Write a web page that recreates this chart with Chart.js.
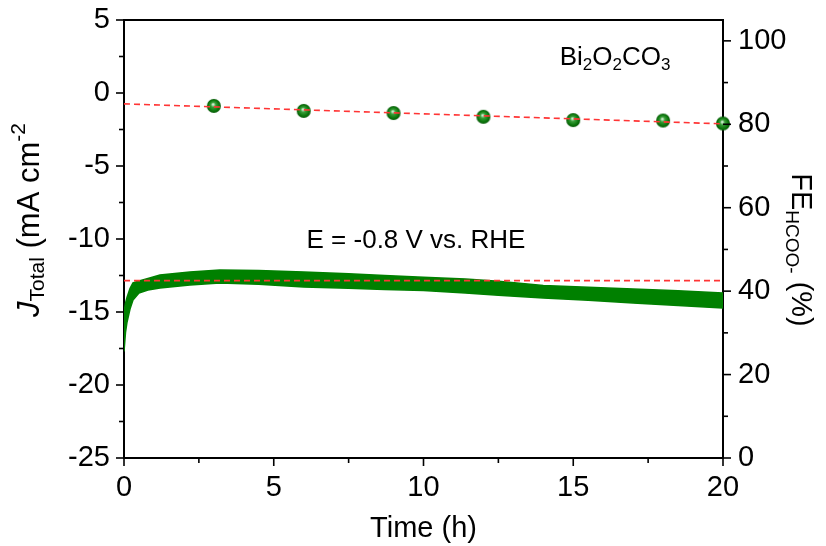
<!DOCTYPE html>
<html>
<head>
<meta charset="utf-8">
<script src="https://cdn.jsdelivr.net/npm/chart.js@4.4.1/dist/chart.umd.min.js"></script>
<style>
  html, body { margin: 0; padding: 0; background: #fff; }
  #wrap { width: 826px; height: 546px; }
</style>
</head>
<body>
<div id="wrap"><canvas id="c"></canvas></div>
<script>
// Chronoamperometry at -0.8 V vs. RHE: current density envelope (noisy band)
const timeH  = [0, 0.05, 0.1, 0.2, 0.3, 0.5, 0.8, 1.2, 2.2, 3.2, 4.5, 6, 7.5, 8.7, 10, 11.4, 12.5, 14, 15.5, 17, 18.5, 20];
const jUpper = [-15.0, -14.4, -14.0, -13.4, -13.0, -12.88, -12.7, -12.47, -12.26, -12.12, -12.15, -12.26, -12.38, -12.5, -12.62, -12.74, -12.9, -13.18, -13.3, -13.42, -13.55, -13.7];
const jLower = [-17.7, -16.4, -15.7, -14.8, -14.18, -13.7, -13.5, -13.36, -13.15, -13.01, -13.1, -13.29, -13.38, -13.46, -13.52, -13.7, -13.85, -14.04, -14.2, -14.38, -14.55, -14.73];

// Formate Faradaic efficiency sampled every 3 h
const feTime  = [3, 6, 9, 12, 15, 18, 20];
const feValue = [84.4, 83.2, 82.7, 81.8, 81.0, 80.9, 80.2];

// Linear trend of the FE and the reference current level
const fitTime  = [0, 20];
const fitValue = [84.9, 80.1];
const refTime  = [0, 20];
const refJ     = [-12.85, -12.85];

// Axis ticks
const xMajor  = [0, 5, 10, 15, 20];
const xMinor  = [2.5, 7.5, 12.5, 17.5];
const yMajor  = [5, 0, -5, -10, -15, -20, -25];
const yMinor  = [2.5, -2.5, -7.5, -12.5, -17.5, -22.5];
const y2Major = [0, 20, 40, 60, 80, 100];
const y2Minor = [10, 30, 50, 70, 90];

const FONT = '"Liberation Sans", Arial, sans-serif';
const GREEN = '#008000';
const RED = '#ff3535';

const pairs = (xs, ys) => xs.map((x, i) => ({ x, y: ys[i] }));

// shaded sphere marker
function sphere(r) {
  const c = document.createElement('canvas');
  const s = r * 2 + 2;
  c.width = s; c.height = s;
  const g = c.getContext('2d');
  const grad = g.createRadialGradient(s * 0.45, s * 0.4, 0.5, s / 2, s / 2, r);
  grad.addColorStop(0, '#d6f0d6');
  grad.addColorStop(0.3, '#3a9e3a');
  grad.addColorStop(0.75, '#0b760b');
  grad.addColorStop(1, '#075807');
  g.fillStyle = grad;
  g.beginPath(); g.arc(s / 2, s / 2, r, 0, Math.PI * 2); g.fill();
  return c;
}
const marker = sphere(7);

// draw a sequence of text runs (with sub/superscripts) centred on 0,0
function drawRuns(ctx, runs) {
  let w = 0;
  runs.forEach(r => { ctx.font = r.font; r.w = ctx.measureText(r.t).width; w += r.w; });
  let x = -w / 2;
  ctx.textBaseline = 'middle';
  ctx.textAlign = 'left';
  runs.forEach(r => { ctx.font = r.font; ctx.fillText(r.t, x, r.dy || 0); x += r.w; });
}

const frame = {
  id: 'frame',
  afterDraw(chart) {
    const { ctx, chartArea: a, scales } = chart;
    ctx.save();
    ctx.strokeStyle = '#000';
    ctx.lineWidth = 2;
    ctx.beginPath();
    ctx.moveTo(a.left - 1, a.top); ctx.lineTo(a.right + 1, a.top);
    ctx.stroke();
    ctx.lineWidth = 1.6;
    const tick = (x1, y1, x2, y2) => { ctx.beginPath(); ctx.moveTo(x1, y1); ctx.lineTo(x2, y2); ctx.stroke(); };
    xMajor.forEach(v => { const p = scales.x.getPixelForValue(v); tick(p, a.bottom, p, a.bottom + 8); });
    xMinor.forEach(v => { const p = scales.x.getPixelForValue(v); tick(p, a.bottom, p, a.bottom + 5); });
    yMajor.forEach(v => { const p = scales.y.getPixelForValue(v); tick(a.left, p, a.left - 8, p); });
    yMinor.forEach(v => { const p = scales.y.getPixelForValue(v); tick(a.left, p, a.left - 5, p); });
    y2Major.forEach(v => { const p = scales.y2.getPixelForValue(v); tick(a.right, p, a.right + 8, p); });
    y2Minor.forEach(v => { const p = scales.y2.getPixelForValue(v); tick(a.right, p, a.right + 5, p); });

    ctx.fillStyle = '#000';
    // left title
    ctx.save();
    ctx.translate(30, 220); ctx.rotate(-Math.PI / 2);
    drawRuns(ctx, [
      { t: 'J', font: 'italic 31px ' + FONT },
      { t: 'Total', font: '21px ' + FONT, dy: 8 },
      { t: ' (mA cm', font: '31px ' + FONT },
      { t: '-2', font: '21px ' + FONT, dy: -11 }
    ]);
    ctx.restore();
    // right title
    ctx.save();
    ctx.translate(800, 250); ctx.rotate(Math.PI / 2);
    drawRuns(ctx, [
      { t: 'FE', font: '29px ' + FONT },
      { t: 'HCOO-', font: '19px ' + FONT, dy: 9 },
      { t: ' (%)', font: '29px ' + FONT }
    ]);
    ctx.restore();
    // annotations
    ctx.save();
    ctx.translate(615, 58);
    const sub = { font: '17px ' + FONT, dy: 7 };
    drawRuns(ctx, [
      { t: 'Bi', font: '26px ' + FONT }, Object.assign({ t: '2' }, sub),
      { t: 'O', font: '26px ' + FONT }, Object.assign({ t: '2' }, sub),
      { t: 'CO', font: '26px ' + FONT }, Object.assign({ t: '3' }, sub)
    ]);
    ctx.restore();
    ctx.save();
    ctx.translate(416, 241);
    drawRuns(ctx, [{ t: 'E = -0.8 V vs. RHE', font: '26px ' + FONT }]);
    ctx.restore();
    ctx.restore();
  }
};

const tickFont = { family: FONT, size: 29 };

new Chart(document.getElementById('c'), {
  type: 'line',
  data: {
    datasets: [
      { data: pairs(timeH, jUpper), yAxisID: 'y', borderColor: GREEN, borderWidth: 1.5, backgroundColor: GREEN,
        fill: '+1', pointRadius: 0, tension: 0, order: 6 },
      { data: pairs(timeH, jLower), yAxisID: 'y', borderColor: GREEN, borderWidth: 1.5, backgroundColor: GREEN,
        fill: false, pointRadius: 0, tension: 0, order: 5 },
      { data: pairs(refTime, refJ), yAxisID: 'y', borderColor: RED, borderWidth: 1.6, borderDash: [6, 4],
        fill: false, pointRadius: 0, order: 4 },
      { data: pairs(feTime, feValue), yAxisID: 'y2', showLine: false, pointStyle: marker, pointRadius: 7,
        clip: false, order: 3 },
      { data: pairs(fitTime, fitValue), yAxisID: 'y2', borderColor: RED, borderWidth: 1.6, borderDash: [6, 4],
        fill: false, pointRadius: 0, order: 2 }
    ]
  },
  options: {
    responsive: true,
    maintainAspectRatio: false,
    animation: false,
    events: [],
    layout: { padding: { top: 20, left: 0, right: 0, bottom: 0 } },
    plugins: { legend: { display: false }, tooltip: { enabled: false } },
    scales: {
      x: {
        type: 'linear', min: 0, max: 20,
        grid: { display: false, drawTicks: false },
        border: { display: true, color: '#000', width: 2 },
        ticks: { stepSize: 5, color: '#000', font: tickFont, padding: 13, maxRotation: 0, callback: v => String(v) },
        title: { display: true, text: 'Time (h)', color: '#000', font: { family: FONT, size: 29 }, padding: { top: 0, bottom: 0 } },
        afterFit: s => { s.height = 88; s.paddingLeft = 0; s.paddingRight = 0; }
      },
      y: {
        position: 'left', min: -25, max: 5,
        grid: { display: false, drawTicks: false },
        border: { display: true, color: '#000', width: 2 },
        ticks: { stepSize: 5, color: '#000', font: tickFont, padding: 14, callback: v => String(v) },
        afterFit: s => { s.width = 124; s.paddingTop = 0; s.paddingBottom = 0; }
      },
      y2: {
        position: 'right', min: 0, max: 105,
        grid: { display: false, drawTicks: false },
        border: { display: true, color: '#000', width: 2 },
        ticks: { color: '#000', font: tickFont, padding: 15, callback: v => String(v) },
        afterBuildTicks: s => { s.ticks = y2Major.map(v => ({ value: v })); },
        afterFit: s => { s.width = 103; s.paddingTop = 0; s.paddingBottom = 0; }
      }
    }
  },
  plugins: [frame]
});
</script>
</body>
</html>
